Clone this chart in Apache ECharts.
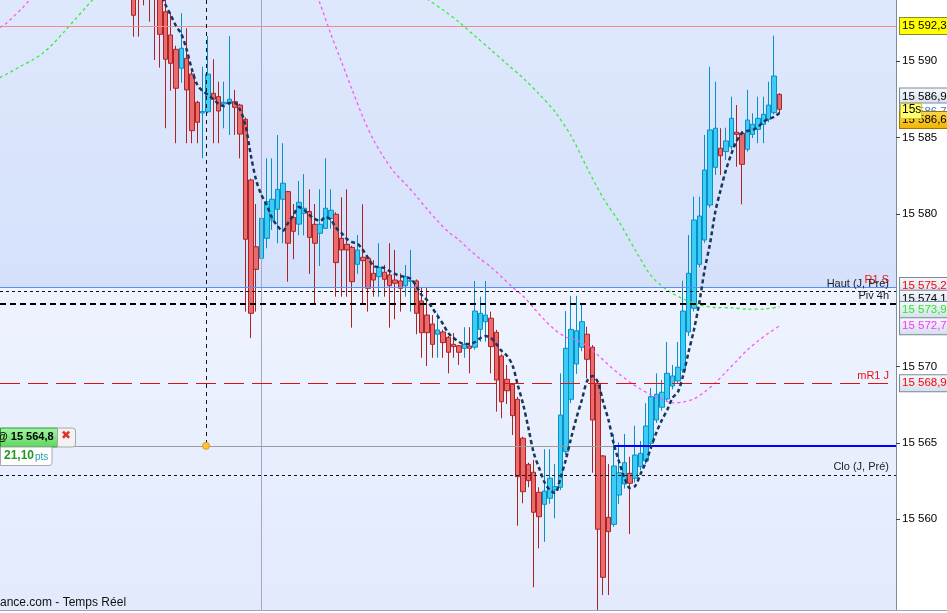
<!DOCTYPE html>
<html><head><meta charset="utf-8">
<script src="https://cdn.jsdelivr.net/npm/echarts@6/dist/echarts.min.js"></script>
<style>html,body{margin:0;padding:0;background:#fff}#c{width:947px;height:613px}</style>
</head><body><div id="c"></div>
<script>
const FONT = 'Liberation Sans, Arial, sans-serif';
// candle OHLC (chronological, 0-based index = x position)
const opens = [15596.0,15597.0,15597.5,15597.2,15596.5,15594.6,15593.23,15591.71,15590.77,15589.53,
15590.18,15589.15,15587.30,15586.6,15586.68,15587.89,15587.67,15587.2,15587.23,15587.34,
15587.12,15586.19,15582.21,15577.84,15577.08,15578.39,15579.59,15580.29,15580.95,15581.45,
15579.76,15579.32,15580.03,15580.15,15579.31,15578.72,15579.04,15579.70,15579.97,15578.39,
15578.0,15577.80,15576.69,15577.15,15577.08,15576.10,15575.88,15576.17,15575.99,15575.66,
15575.60,15575.29,15575.58,15575.60,15574.29,15573.37,15572.78,15572.11,15572.26,15571.91,
15571.45,15571.36,15571.19,15571.34,15571.26,15572.43,15572.93,15573.16,15572.24,15570.69,
15569.16,15568.83,15567.85,15565.30,15563.59,15563.07,15561.76,15560.97,15561.37,15561.91,
15562.09,15564.42,15567.85,15570.16,15571.26,15572.11,15571.26,15568.90,15564.14,15560.12,
15559.66,15561.58,15562.30,15563.0,15562.68,15563.44,15563.83,15564.97,15566.49,15567.33,
15567.87,15568.72,15569.05,15569.77,15572.26,15573.81,15576.69,15578.28,15580.57,15583.04,
15584.29,15584.07,15584.39,15585.34,15585.27,15584.22,15585.20,15585.53,15585.86,15586.19,
15586.62,15587.82];
const closes = [15593.0,15595.0,15596.0,15595.8,15595.2,15591.75,15590.12,15589.85,15588.22,15590.84,
15588.11,15585.44,15585.99,15586.7,15589.15,15587.50,15586.73,15587.3,15587.50,15586.97,
15585.22,15578.33,15573.48,15576.36,15579.70,15580.79,15580.95,15581.60,15582.0,15578.07,
15578.85,15580.75,15580.36,15578.45,15578.07,15579.31,15580.36,15580.23,15576.80,15577.63,
15577.63,15575.55,15577.63,15576.93,15575.12,15575.66,15576.49,15575.71,15575.29,15575.45,
15575.12,15575.88,15575.62,15573.48,15572.21,15572.21,15571.45,15572.39,15571.56,15570.93,
15571.30,15570.93,15571.45,15571.19,15573.63,15573.48,15573.37,15571.30,15569.11,15567.69,
15568.41,15566.78,15562.78,15561.80,15562.52,15560.45,15560.16,15561.84,15562.68,15562.13,
15566.82,15571.19,15572.43,15572.34,15572.93,15570.47,15566.49,15559.34,15556.19,15559.18,
15563.48,15563.04,15563.70,15562.35,15564.20,15564.31,15566.10,15568.02,15568.18,15568.31,
15569.55,15569.38,15569.95,15573.63,15576.10,15579.59,15579.85,15582.87,15585.49,15585.60,
15583.80,15584.77,15586.25,15585.20,15583.24,15586.14,15585.86,15586.25,15586.51,15587.12,
15589.02,15586.84];
const lows = [15591.6,15591.6,15593.65,15592.58,15590.07,15589.57,15585.6,15588.06,15584.62,15588.58,
15584.62,15584.62,15584.62,15583.63,15586.58,15584.62,15584.62,15585.6,15585.16,15585.16,
15583.63,15573.59,15571.86,15573.59,15576.53,15577.74,15578.94,15578.07,15578.07,15575.55,
15577.02,15578.59,15578.59,15576.06,15574.09,15576.58,15579.0,15579.02,15574.57,15574.57,
15574.57,15572.54,15576.06,15574.14,15573.59,15574.57,15574.57,15574.57,15572.54,15573.09,
15573.59,15574.57,15573.59,15572.11,15570.57,15570.03,15570.57,15570.57,15570.57,15569.55,
15570.57,15570.10,15570.57,15569.55,15571.1,15571.62,15571.62,15569.55,15567.04,15566.61,
15567.54,15565.51,15559.57,15561.04,15562.09,15555.54,15558.09,15558.52,15561.0,15560.06,
15561.9,15564.2,15567.6,15569.51,15571.0,15569.22,15563.04,15554.05,15555.03,15555.03,
15559.5,15560.99,15562.0,15559.03,15562.4,15563.2,15563.6,15564.8,15566.3,15567.1,
15567.7,15568.5,15568.9,15569.6,15572.0,15573.6,15576.5,15578.1,15580.4,15582.54,
15582.54,15583.52,15584.2,15583.08,15580.62,15584.07,15584.96,15584.62,15584.62,15586.0,
15586.5,15586.53];
const highs = [15596.5,15597.5,15598.0,15598.0,15597.0,15595.0,15594.5,15593.13,15591.0,15593.13,
15592.15,15589.3,15587.4,15589.63,15591.64,15590.12,15588.65,15588.65,15591.64,15588.11,
15587.2,15586.3,15582.3,15580.64,15580.0,15583.63,15583.63,15585.16,15584.62,15581.5,
15580.64,15582.15,15582.6,15581.6,15580.64,15581.6,15583.63,15581.6,15580.1,15581.08,
15581.6,15577.9,15578.61,15580.62,15577.2,15576.97,15578.07,15576.65,15578.07,15577.63,
15576.10,15576.65,15577.63,15575.7,15575.14,15575.14,15573.37,15573.48,15572.4,15572.0,
15572.19,15571.4,15572.57,15572.57,15575.60,15574.57,15575.6,15573.59,15572.4,15570.8,
15570.10,15568.9,15568.0,15565.4,15563.7,15563.88,15562.09,15564.58,15564.58,15563.61,
15569.55,15573.63,15574.62,15574.62,15574.09,15572.60,15571.4,15569.0,15564.2,15563.61,
15565.58,15565.03,15565.58,15564.09,15566.12,15565.12,15567.59,15568.59,15569.55,15569.11,
15571.6,15570.1,15571.6,15575.62,15578.61,15581.12,15581.12,15585.16,15589.63,15588.65,
15585.60,15585.64,15587.67,15587.12,15585.4,15588.11,15586.58,15587.67,15587.67,15588.65,
15591.66,15587.9];
// short moving average (navy dashed), aligned with candles (null = above chart)
const fastMA = [null,null,null,null,null,15594.6,15593.7,15593.02,15592.3,15591.77,
15590.73,15589.42,15588.43,15588.04,15587.78,15587.52,15587.19,15587.06,15587.25,15587.25,
15586.8,15585.81,15583.85,15582.21,15581.23,15580.57,15579.72,15579.2,15578.87,15579.4,
15579.92,15580.44,15580.25,15579.92,15579.66,15579.53,15579.79,15579.6,15579.07,15578.74,
15578.35,15578.15,15578.02,15577.63,15577.10,15576.58,15576.51,15576.45,15576.25,15576.06,
15575.92,15575.86,15575.73,15575.27,15574.68,15574.35,15573.83,15573.30,15572.78,15572.19,
15571.86,15571.6,15571.47,15571.47,15571.6,15571.86,15571.99,15571.86,15571.47,15571.01,
15570.69,15570.10,15568.79,15567.54,15565.97,15564.33,15563.35,15562.43,15561.91,15561.71,
15562.70,15563.88,15565.32,15566.63,15567.80,15569.05,15569.38,15568.98,15567.67,15566.49,
15564.92,15563.74,15562.70,15562.04,15562.17,15562.96,15563.74,15564.73,15565.71,15566.49,
15567.15,15567.94,15568.33,15569.44,15570.95,15572.39,15574.16,15576.32,15578.02,15580.12,
15581.56,15582.87,15583.91,15584.77,15585.29,15585.42,15585.49,15585.68,15586.01,15586.21,
15586.34,15586.6];
// slow average (green dashed)
const greenLeftX = [-25,-23,-21,-19,-17,-15,-13,-11,-9,-7];
const greenLeftY = [15588.92,15589.28,15589.68,15590.05,15590.5,15591.15,15591.90,15592.69,15593.48,15594.26];
const greenRightX = [55,58,61,64,67,70,73,76,79,82,85,88,91,94,97,100,103,106,109,112,115,118,121];
const greenRightY = [15594.07,15593.35,15592.56,15591.64,15590.73,15589.81,15588.89,15587.84,15586.67,15585.09,
15583.0,15581.03,15579.46,15577.63,15575.93,15575.01,15574.42,15574.03,15573.86,15573.84,15573.76,15573.76,15573.91];
// magenta dashed average
const magLeftX = [-25,-24,-22.9,-21.8,-20.7,-19.7,-18.6];
const magLeftY = [15592.21,15592.41,15592.76,15593.13,15593.5,15593.89,15594.26];
const magRightX = [34,35,37,39,41,43,45,47,49,51,53,55,57,59,61,63,65,67,69,71,73,75,77,79,81,83,85,87,89,91,93,95,97,99,101,103,105,107,109,111,113,115,117,119,121];
const magRightY = [15594.65,15593.74,15591.77,15589.94,15588.11,15586.34,15584.83,15583.65,15582.67,15581.95,
15581.16,15580.31,15579.53,15578.81,15578.28,15577.63,15577.04,15576.51,15575.86,15575.2,
15574.61,15573.83,15573.04,15572.39,15571.93,15571.73,15571.34,15570.75,15570.10,15569.51,
15568.98,15568.52,15568.13,15567.87,15567.61,15567.67,15567.87,15568.33,15568.92,15569.64,
15570.36,15571.08,15571.67,15572.19,15572.65];
// price levels
const lvlPrevHigh = 15592.3, lvlR1S = 15575.2, lvlHaut = 15574.9, lvlPiv = 15574.1,
      lvlGreen = 15573.9, lvlMag = 15572.7, lvlMR1 = 15568.9, lvlPos = 15564.8, lvlClo = 15562.9;
const lastClose = 15586.9, lastMid = 15586.7, lastMA = 15586.6;
const yTicks = [15560,15565,15570,15580,15585,15590];

function fmt(v){ const s=v.toFixed(1).split('.'); return s[0].slice(0,2)+' '+s[0].slice(2)+','+s[1]; }
function fmt0(v){ const s=Math.round(v).toString(); return s.slice(0,2)+' '+s.slice(2); }

const candleData = opens.map((o,i)=>[i,o,closes[i],lows[i],highs[i]]);
const maData = fastMA.map((v,i)=>[i, v]).filter(d=>d[1]!=null);
const pairs = (xs,ys)=>xs.map((x,i)=>[x,ys[i]]);

function box(v, color, bg, dy, border){
  return {show:true, position:'end', formatter:fmt(v), color:color, backgroundColor:bg,
    borderColor:border||'#7a8a9a', borderWidth:1, padding:[2,1,2,2], fontSize:11.5, fontFamily:FONT,
    distance:4, offset:[0,dy||0]};
}
function tag(t, color){
  return {show:true, position:'insideEndTop', formatter:t, color:color, fontSize:11, fontFamily:FONT, distance:[7,2]};
}
const hidden = {color:'rgba(0,0,0,0)', width:0, type:'solid'};
const lightBox = new echarts.graphic.LinearGradient(0,0,0,1,[{offset:0,color:'#f6f8fc'},{offset:1,color:'#d4deec'}]);
const orangeBox = new echarts.graphic.LinearGradient(0,0,0,1,[{offset:0,color:'#ffd84a'},{offset:1,color:'#f0b400'}]);

const chart = echarts.init(document.getElementById('c'), null, {renderer:'canvas'});
chart.setOption({
  animation:false,
  backgroundColor:'#ffffff',
  grid:{left:0, right:51, top:0, bottom:3, show:true, borderWidth:0,
    backgroundColor:new echarts.graphic.LinearGradient(0,0,0,1,[{offset:0,color:'#dee8fd'},{offset:0.47,color:'#d5e1fb'},{offset:1,color:'#d0dcf9'}])},
  xAxis:{type:'value', min:-24.97, max:142.85, axisLine:{show:true, onZero:false, lineStyle:{color:'#8896a6'}},
    axisTick:{show:false}, axisLabel:{show:false}, splitLine:{show:false}},
  yAxis:{type:'value', position:'right', min:15554.05, max:15594.0, splitNumber:8, scale:true,
    axisLine:{show:true, onZero:false, lineStyle:{color:'#7f8f9f'}},
    axisTick:{show:true, length:4, lineStyle:{color:'#444'}, customValues:yTicks},
    axisLabel:{customValues:yTicks, color:'#000', fontSize:11.5, fontFamily:FONT, margin:6,
      formatter:v=> (Math.abs(v/5-Math.round(v/5))<1e-6 && yTicks.indexOf(Math.round(v))>=0) ? fmt0(v) : ''},
    splitLine:{show:false}},
  series:[
    {type:'line', data:[], z:1, silent:true,
      markArea:{silent:true, itemStyle:{color:new echarts.graphic.LinearGradient(0,0,0,1,[{offset:0,color:'#eef3fe'},{offset:1,color:'#e2eafc'}])},
        data:[[{yAxis:lvlR1S},{yAxis:15554.05}]]}},
    {type:'candlestick', data:candleData, encode:{x:0, y:[1,2,3,4]}, z:2, clip:true, barWidth:5,
      itemStyle:{color:'#3ccdf6', color0:'#e96b6b', borderColor:'#0a8ec6', borderColor0:'#ad2225', borderWidth:1}},
    {type:'line', data:[], z:3, silent:true,
      markLine:{silent:true, symbol:['none','none'], label:{show:false}, emphasis:{disabled:true},
        data:[
          {yAxis:lvlPrevHigh, lineStyle:{color:'#f28a8a', type:'solid', width:1},
            label:box(lvlPrevHigh,'#000','#ffff00',0,'#8a8a30')},
          {xAxis:24, lineStyle:{color:'#a9a3c6', type:'solid', width:1}},
          [{coord:[13.62,15594.0], lineStyle:{color:'#111', type:[4,4], width:1}},{coord:[13.62,lvlPos]}],
          {yAxis:lvlR1S, lineStyle:{color:'#5a8ef8', type:'solid', width:1}, label:tag('R1 S','#ee1111')},
          {yAxis:lvlHaut, lineStyle:{color:'#111', type:[3,3], width:1}, label:tag('Haut (J, Pré)','#222')},
          {yAxis:lvlPiv, lineStyle:{color:'#000', type:[6,4], width:2}, label:tag('Piv 4h','#222')},
          {yAxis:lvlMR1, lineStyle:{color:'#dd1111', type:[20,8], width:1}, label:tag('mR1 J','#ee1111')},
          {yAxis:lvlPos, lineStyle:{color:'#9c9c9c', type:'solid', width:1}},
          [{coord:[90,lvlPos], lineStyle:{color:'#0000ff', type:'solid', width:2}},{coord:[142.85,lvlPos]}],
          {yAxis:lvlClo, lineStyle:{color:'#111', type:[3,3], width:1}, label:tag('Clo (J, Pré)','#222')},
          {yAxis:lvlR1S, lineStyle:hidden, label:box(lvlR1S,'#ff0000',lightBox,-1)},
          {yAxis:lvlPiv, lineStyle:hidden, label:box(lvlPiv,'#000',lightBox,-5)},
          {yAxis:lvlGreen, lineStyle:hidden, label:box(lvlGreen,'#22ee22',lightBox,3)},
          {yAxis:lvlMag, lineStyle:hidden, label:box(lvlMag,'#ff33ff',lightBox,1)},
          {yAxis:lvlMR1, lineStyle:hidden, label:box(lvlMR1,'#ff0000',lightBox,0)},
          {yAxis:lastClose, lineStyle:hidden, label:box(lastClose,'#000',lightBox,-12)},
          {yAxis:lastMid, lineStyle:hidden, label:box(lastMid,'#2f7fd0','#ffffff',0)},
          {yAxis:lastMA, lineStyle:hidden, label:box(lastMA,'#000',orangeBox,7,'#a07800')}
        ]},
      markPoint:{silent:true, symbol:'circle', symbolSize:7, label:{show:false},
        itemStyle:{color:'#ffc23c', borderColor:'#e0981c', borderWidth:1},
        data:[{coord:[13.62,lvlPos]}]}},
    {type:'line', data:pairs(greenLeftX,greenLeftY), z:4, showSymbol:false, silent:true, clip:true, smooth:0.3,
      lineStyle:{color:'#33ee33', width:1.3, type:[3,3]}},
    {type:'line', data:pairs(greenRightX,greenRightY), z:4, showSymbol:false, silent:true, clip:true, smooth:0.3,
      lineStyle:{color:'#33ee33', width:1.3, type:[3,3]}},
    {type:'line', data:pairs(magLeftX,magLeftY), z:4, showSymbol:false, silent:true, clip:true, smooth:0.3,
      lineStyle:{color:'#ff55ee', width:1.3, type:[3,3]}},
    {type:'line', data:pairs(magRightX,magRightY), z:4, showSymbol:false, silent:true, clip:true, smooth:0.3,
      lineStyle:{color:'#ff55ee', width:1.3, type:[3,3]}},
    {type:'line', data:maData, z:5, showSymbol:false, silent:true, clip:true, smooth:0.3,
      lineStyle:{color:'#17365d', width:2.5, type:[4,3]}}
  ],
  graphic:[
    {type:'rect', left:900, top:103, shape:{width:21, height:15}, style:{fill:'#ffff70', stroke:'#d0c040'}, z:100},
    {type:'text', left:902, top:104, style:{text:'15s', fill:'#000', font:'12px '+FONT}, z:101},
    {type:'rect', left:0, top:427.5, shape:{width:57, height:19},
      style:{fill:new echarts.graphic.LinearGradient(0,0,0,1,[{offset:0,color:'#a4f4a4'},{offset:1,color:'#5cd65c'}]), stroke:'#2a9a2a'}, z:100},
    {type:'text', left:-3, top:431, style:{text:'@ 15 564,8', fill:'#000', font:'bold 11px '+FONT}, z:101},
    {type:'rect', left:57, top:427.5, shape:{width:18, height:19, r:[0,3,3,0]}, style:{fill:'#f2f2f2', stroke:'#a8a8a8'}, z:100},
    {type:'text', left:61, top:430, style:{text:'✖', fill:'#e03030', font:'bold 12px DejaVu Sans'}, z:101},
    {type:'rect', left:0, top:446.5, shape:{width:51.5, height:18.5, r:[0,0,3,0]}, style:{fill:'#ffffff', stroke:'#a8a8a8'}, z:100},
    {type:'text', left:4, top:450, style:{text:'21,10', fill:'#1f9a1f', font:'bold 12px '+FONT}, z:101},
    {type:'text', left:35, top:452, style:{text:'pts', fill:'#2a9aaa', font:'10px '+FONT}, z:101},
    {type:'text', left:0, top:597, style:{text:'ance.com - Temps Réel', fill:'#111', font:'12px '+FONT}, z:101},
    {type:'rect', left:0, top:610, shape:{width:947, height:1}, style:{fill:'#9aa6b2'}, z:100}
  ]
});
</script></body></html>
